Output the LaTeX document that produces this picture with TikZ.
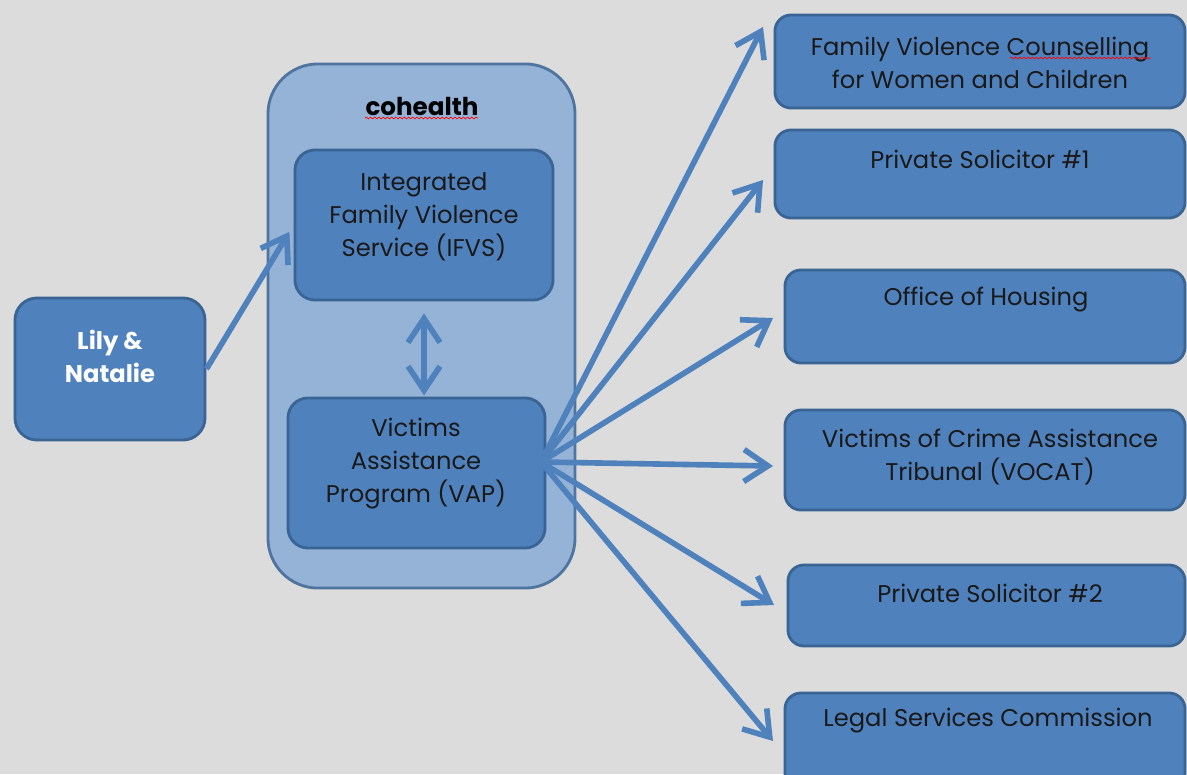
\documentclass[tikz,border=0pt]{standalone}
\usepackage{fontspec}
\setmainfont{Poppins}
\usetikzlibrary{arrows.meta,decorations.pathmorphing}
\definecolor{bgGray}{HTML}{DCDCDC}
\definecolor{boxBlue}{HTML}{4F81BD}
\definecolor{boxEdge}{HTML}{3A6494}
\definecolor{outerBlue}{HTML}{95B3D7}
\definecolor{arrowBlue}{HTML}{4F81BD}
\begin{document}
\begin{tikzpicture}[x=0.025cm, y=-0.025cm,
    box/.style={draw=boxEdge, fill=boxBlue, line width=2pt, rounded corners=0.4cm},
    boxtext/.style={align=center, text=black!90, font=\fontsize{17.2}{23.5}\selectfont},
    flow/.style={draw=arrowBlue, line width=4pt, -{Straight Barb[length=0.6cm, width=0.8cm]}},
    squiggle/.style={red, line width=0.5pt, decorate, decoration={snake, amplitude=0.6pt, segment length=3pt}}]
    \fill[bgGray] (0,0) rectangle (1187,774);
    \useasboundingbox (0,0) rectangle (1187,774);

    \node[box, rounded corners=1.25cm, fill=outerBlue, draw=boxEdge!90, minimum width=7.675cm, minimum height=13.1cm] (cohealth) at (421.5,326) {};
    \node[font=\fontsize{17.5}{18}\selectfont\bfseries, text=black] (t-cohealth) at (422,106) {cohealth};
    \draw[squiggle] (365,118) -- (478,118);

    \node[box, rounded corners=0.55cm, minimum width=4.75cm, minimum height=3.55cm] (lily) at (110,369) {};
    \node[boxtext, text=white, font=\fontsize{17.2}{23.5}\selectfont\bfseries] (t-lily) at (110,356) {Lily \&\\Natalie};

    \node[box, rounded corners=0.5cm, minimum width=6.45cm, minimum height=3.75cm] (ifvs) at (424,225) {};
    \node[boxtext] (t-ifvs) at (424,217) {Integrated\\Family Violence\\Service (IFVS)};

    \node[box, rounded corners=0.5cm, minimum width=6.425cm, minimum height=3.75cm] (vap) at (416.5,473) {};
    \node[boxtext] (t-vap) at (416,464) {Victims\\Assistance\\Program (VAP)};

    \node[box, minimum width=10.25cm, minimum height=2.325cm] (fvc) at (980,61.5) {};
    \node[boxtext] (t-fvc) at (980,63) {Family Violence Counselling\\for Women and Children};
    \draw[squiggle] (1010,58) -- (1151,58);

    \node[box, minimum width=10.25cm, minimum height=2.2cm] (ps1) at (980,174) {};
    \node[boxtext] (t-ps1) at (980,159) {Private Solicitor \#1};

    \node[box, minimum width=10cm, minimum height=2.325cm] (oh) at (985,316.5) {};
    \node[boxtext] (t-oh) at (986,300) {Office of Housing};

    \node[box, minimum width=10cm, minimum height=2.5cm] (vocat) at (985,460) {};
    \node[boxtext] (t-vocat) at (990,457) {Victims of Crime Assistance\\Tribunal (VOCAT)};

    \node[box, minimum width=9.925cm, minimum height=2.025cm] (ps2) at (986.5,605.5) {};
    \node[boxtext] (t-ps2) at (990,593) {Private Solicitor \#2};

    \node[box, minimum width=10cm, minimum height=2.425cm] (lsc) at (985,741.5) {};
    \node[boxtext] (t-lsc) at (988,721) {Legal Services Commission};

    \coordinate (hub) at (541,462);
    \coordinate (tip-fvc) at (763,27);
    \coordinate (tip-ps1) at (763,180);
    \coordinate (tip-oh) at (773,318);
    \coordinate (tip-vocat) at (773,466);
    \coordinate (tip-ps2) at (774,605);
    \coordinate (tip-lsc) at (773,741);

    \draw[flow, shorten >=0.2cm] (lily.east) -- (ifvs.west);
    \draw[flow, {Straight Barb[length=0.6cm, width=0.8cm]}-{Straight Barb[length=0.6cm, width=0.8cm]}, shorten <=0.3cm, shorten >=0.03cm] (ifvs.south) -- (ifvs.south |- vap.north);
    \foreach \target in {fvc, ps1, oh, vocat, ps2, lsc}
        \draw[flow] (hub) -- (tip-\target);
\end{tikzpicture}
\end{document}
